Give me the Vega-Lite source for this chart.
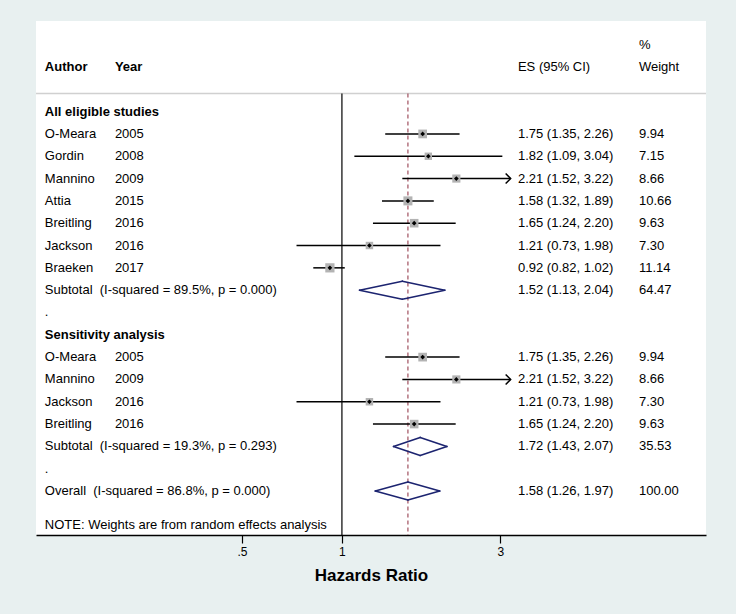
{
  "$schema": "https://vega.github.io/schema/vega-lite/v6.json",
  "width": 670,
  "height": 514,
  "autosize": {"type": "none"},
  "padding": {"left": 36, "top": 21, "right": 30, "bottom": 79},
  "background": "#e8f0f0",
  "config": {
    "view": {"stroke": null, "fill": "#ffffff"},
    "text": {"font": "Liberation Sans", "fontSize": 13, "align": "left", "baseline": "middle", "color": "#000000"},
    "axisX": {
      "domainColor": "#000000", "domainWidth": 1.5, "tickColor": "#000000", "tickWidth": 1.2, "tickSize": 8,
      "labelFont": "Liberation Sans", "labelFontSize": 12, "labelColor": "#000000", "labelPadding": 3,
      "titleFont": "Liberation Sans", "titleFontSize": 17, "titleFontWeight": "bold", "titleColor": "#000000", "titlePadding": 10,
      "grid": false
    }
  },
  "data": {"values": [
    {"row": -2, "type": "header2", "weight_text": "%"},
    {"row": -1, "type": "header", "label": "Author", "year": "Year", "es_text": "ES (95% CI)", "weight_text": "Weight"},
    {"row": 1, "type": "section", "label": "All eligible studies"},
    {"row": 2, "type": "study", "label": "O-Meara", "year": "2005", "es": 1.75, "lo": 1.35, "hi": 2.26, "weight": 9.94, "es_text": "1.75 (1.35, 2.26)", "weight_text": "9.94"},
    {"row": 3, "type": "study", "label": "Gordin", "year": "2008", "es": 1.82, "lo": 1.09, "hi": 3.04, "weight": 7.15, "es_text": "1.82 (1.09, 3.04)", "weight_text": "7.15"},
    {"row": 4, "type": "study", "label": "Mannino", "year": "2009", "es": 2.21, "lo": 1.52, "hi": 3.22, "weight": 8.66, "es_text": "2.21 (1.52, 3.22)", "weight_text": "8.66"},
    {"row": 5, "type": "study", "label": "Attia", "year": "2015", "es": 1.58, "lo": 1.32, "hi": 1.89, "weight": 10.66, "es_text": "1.58 (1.32, 1.89)", "weight_text": "10.66"},
    {"row": 6, "type": "study", "label": "Breitling", "year": "2016", "es": 1.65, "lo": 1.24, "hi": 2.20, "weight": 9.63, "es_text": "1.65 (1.24, 2.20)", "weight_text": "9.63"},
    {"row": 7, "type": "study", "label": "Jackson", "year": "2016", "es": 1.21, "lo": 0.73, "hi": 1.98, "weight": 7.30, "es_text": "1.21 (0.73, 1.98)", "weight_text": "7.30"},
    {"row": 8, "type": "study", "label": "Braeken", "year": "2017", "es": 0.92, "lo": 0.82, "hi": 1.02, "weight": 11.14, "es_text": "0.92 (0.82, 1.02)", "weight_text": "11.14"},
    {"row": 9, "type": "subtotal", "label": "Subtotal\u00a0 (I-squared = 89.5%, p = 0.000)", "es": 1.52, "lo": 1.13, "hi": 2.04, "weight": 64.47, "es_text": "1.52 (1.13, 2.04)", "weight_text": "64.47"},
    {"row": 10, "type": "blank", "label": "."},
    {"row": 11, "type": "section", "label": "Sensitivity analysis"},
    {"row": 12, "type": "study", "label": "O-Meara", "year": "2005", "es": 1.75, "lo": 1.35, "hi": 2.26, "weight": 9.94, "es_text": "1.75 (1.35, 2.26)", "weight_text": "9.94"},
    {"row": 13, "type": "study", "label": "Mannino", "year": "2009", "es": 2.21, "lo": 1.52, "hi": 3.22, "weight": 8.66, "es_text": "2.21 (1.52, 3.22)", "weight_text": "8.66"},
    {"row": 14, "type": "study", "label": "Jackson", "year": "2016", "es": 1.21, "lo": 0.73, "hi": 1.98, "weight": 7.30, "es_text": "1.21 (0.73, 1.98)", "weight_text": "7.30"},
    {"row": 15, "type": "study", "label": "Breitling", "year": "2016", "es": 1.65, "lo": 1.24, "hi": 2.20, "weight": 9.63, "es_text": "1.65 (1.24, 2.20)", "weight_text": "9.63"},
    {"row": 16, "type": "subtotal", "label": "Subtotal\u00a0 (I-squared = 19.3%, p = 0.293)", "es": 1.72, "lo": 1.43, "hi": 2.07, "weight": 35.53, "es_text": "1.72 (1.43, 2.07)", "weight_text": "35.53"},
    {"row": 17, "type": "blank", "label": "."},
    {"row": 18, "type": "overall", "label": "Overall\u00a0 (I-squared = 86.8%, p = 0.000)", "es": 1.58, "lo": 1.26, "hi": 1.97, "weight": 100.00, "es_text": "1.58 (1.26, 1.97)", "weight_text": "100.00"},
    {"row": 19.5, "type": "note", "label": "NOTE: Weights are from random effects analysis"}
  ]},
  "layer": [
    {
      "data": {"values": [{}]},
      "mark": {"type": "rule", "color": "#d0d0d0", "strokeWidth": 1.5},
      "encoding": {
        "x": {"datum": 0.12, "type": "quantitative",
          "scale": {"type": "log", "domain": [0.12, 12.47], "nice": false},
          "axis": {"values": [0.5, 1, 3], "labelExpr": "replace(datum.label, '0.', '.')", "title": "Hazards Ratio"}},
        "x2": {"datum": 12.47},
        "y": {"datum": 0.19, "type": "quantitative",
          "scale": {"domain": [-3.06, 19.97], "reverse": true, "nice": false, "zero": false}, "axis": null}
      }
    },
    {
      "data": {"values": [{}]},
      "mark": {"type": "rule", "color": "#000000", "strokeWidth": 1.2},
      "encoding": {
        "x": {"datum": 1, "type": "quantitative"},
        "y": {"datum": 0.19, "type": "quantitative"},
        "y2": {"datum": 19.97}
      }
    },
    {
      "transform": [{"filter": "datum.type === 'overall'"}],
      "mark": {"type": "rule", "color": "#a0505f", "strokeWidth": 1.2, "strokeDash": [4, 3]},
      "encoding": {
        "x": {"field": "es", "type": "quantitative", "title": "Hazards Ratio"},
        "y": {"datum": 0.19, "type": "quantitative"},
        "y2": {"datum": 19.97}
      }
    },
    {
      "transform": [{"filter": "datum.type === 'study'"}],
      "mark": {"type": "rule", "color": "#000000", "strokeWidth": 1.5},
      "encoding": {
        "x": {"field": "lo", "type": "quantitative", "title": "Hazards Ratio"},
        "x2": {"field": "hi"},
        "y": {"field": "row", "type": "quantitative"}
      }
    },
    {
      "transform": [{"filter": "datum.type === 'study' && datum.hi > 3.1"}],
      "mark": {"type": "point", "shape": "M-1,-1L0,0L-1,1", "filled": false, "stroke": "#000000", "strokeWidth": 1.5, "size": 100, "opacity": 1},
      "encoding": {
        "x": {"field": "hi", "type": "quantitative", "title": "Hazards Ratio"},
        "y": {"field": "row", "type": "quantitative"}
      }
    },
    {
      "transform": [{"filter": "datum.type === 'study'"}],
      "mark": {"type": "point", "shape": "square", "filled": true, "color": "#b3b3b3", "opacity": 1},
      "encoding": {
        "x": {"field": "es", "type": "quantitative", "title": "Hazards Ratio"},
        "y": {"field": "row", "type": "quantitative"},
        "size": {"field": "weight", "type": "quantitative", "scale": {"domain": [0, 11.14], "range": [0, 85]}, "legend": null}
      }
    },
    {
      "transform": [{"filter": "datum.type === 'study'"}],
      "mark": {"type": "point", "shape": "diamond", "filled": true, "color": "#000000", "size": 22, "opacity": 1},
      "encoding": {
        "x": {"field": "es", "type": "quantitative", "title": "Hazards Ratio"},
        "y": {"field": "row", "type": "quantitative"}
      }
    },
    {
      "transform": [{"filter": "datum.type === 'subtotal' || datum.type === 'overall'"}],
      "mark": {"type": "rule", "color": "#1c2470", "strokeWidth": 1.6, "strokeCap": "round", "y2Offset": -9},
      "encoding": {
        "x": {"field": "lo", "type": "quantitative", "title": "Hazards Ratio"},
        "x2": {"field": "es"},
        "y": {"field": "row", "type": "quantitative"},
        "y2": {"field": "row"}
      }
    },
    {
      "transform": [{"filter": "datum.type === 'subtotal' || datum.type === 'overall'"}],
      "mark": {"type": "rule", "color": "#1c2470", "strokeWidth": 1.6, "strokeCap": "round", "y2Offset": 9},
      "encoding": {
        "x": {"field": "lo", "type": "quantitative", "title": "Hazards Ratio"},
        "x2": {"field": "es"},
        "y": {"field": "row", "type": "quantitative"},
        "y2": {"field": "row"}
      }
    },
    {
      "transform": [{"filter": "datum.type === 'subtotal' || datum.type === 'overall'"}],
      "mark": {"type": "rule", "color": "#1c2470", "strokeWidth": 1.6, "strokeCap": "round", "yOffset": -9},
      "encoding": {
        "x": {"field": "es", "type": "quantitative", "title": "Hazards Ratio"},
        "x2": {"field": "hi"},
        "y": {"field": "row", "type": "quantitative"},
        "y2": {"field": "row"}
      }
    },
    {
      "transform": [{"filter": "datum.type === 'subtotal' || datum.type === 'overall'"}],
      "mark": {"type": "rule", "color": "#1c2470", "strokeWidth": 1.6, "strokeCap": "round", "yOffset": 9},
      "encoding": {
        "x": {"field": "es", "type": "quantitative", "title": "Hazards Ratio"},
        "x2": {"field": "hi"},
        "y": {"field": "row", "type": "quantitative"},
        "y2": {"field": "row"}
      }
    },
    {
      "transform": [{"filter": "datum.type === 'study' || datum.type === 'subtotal' || datum.type === 'overall' || datum.type === 'blank' || datum.type === 'note'"}],
      "mark": {"type": "text"},
      "encoding": {
        "x": {"datum": 0.1276, "type": "quantitative"},
        "y": {"field": "row", "type": "quantitative"},
        "text": {"field": "label"}
      }
    },
    {
      "transform": [{"filter": "datum.type === 'section' || datum.type === 'header'"}],
      "mark": {"type": "text", "fontWeight": "bold"},
      "encoding": {
        "x": {"datum": 0.1276, "type": "quantitative"},
        "y": {"field": "row", "type": "quantitative"},
        "text": {"field": "label"}
      }
    },
    {
      "transform": [{"filter": "datum.type === 'header'"}],
      "mark": {"type": "text", "fontWeight": "bold"},
      "encoding": {
        "x": {"datum": 0.2073, "type": "quantitative"},
        "y": {"field": "row", "type": "quantitative"},
        "text": {"field": "year"}
      }
    },
    {
      "transform": [{"filter": "datum.type === 'study'"}],
      "mark": {"type": "text"},
      "encoding": {
        "x": {"datum": 0.2073, "type": "quantitative"},
        "y": {"field": "row", "type": "quantitative"},
        "text": {"field": "year"}
      }
    },
    {
      "transform": [{"filter": "isValid(datum.es_text)"}],
      "mark": {"type": "text"},
      "encoding": {
        "x": {"datum": 3.387, "type": "quantitative"},
        "y": {"field": "row", "type": "quantitative"},
        "text": {"field": "es_text"}
      }
    },
    {
      "transform": [{"filter": "isValid(datum.weight_text)"}],
      "mark": {"type": "text"},
      "encoding": {
        "x": {"datum": 7.834, "type": "quantitative"},
        "y": {"field": "row", "type": "quantitative"},
        "text": {"field": "weight_text"}
      }
    }
  ]
}
